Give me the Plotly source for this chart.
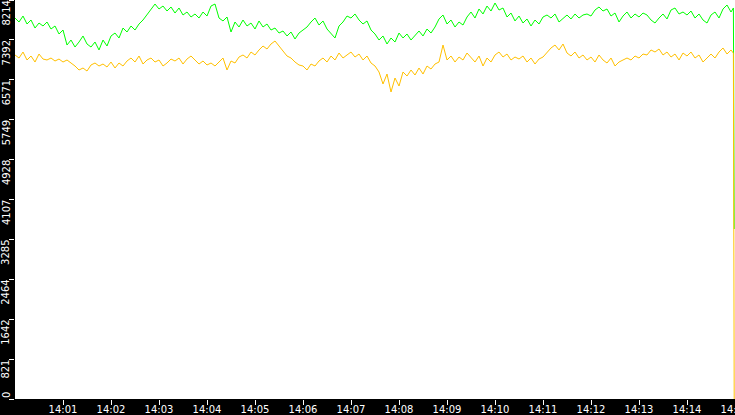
import pandas as pd
import plotly.graph_objects as go

# ---- data -------------------------------------------------------------
green_vals = [
    7843, 7761, 7884, 7720, 7802, 7637, 7740, 7679, 7761, 7617,
    7679, 7514, 7596, 7287, 7390, 7246, 7349, 7473, 7308, 7246,
    7349, 7185, 7390, 7267, 7473, 7534, 7432, 7637, 7555, 7679,
    7596, 7720, 7802, 7905, 8008, 8131, 8029, 8090, 7987, 8070,
    7946, 8049, 7905, 7967, 7864, 7926, 7843, 7967, 7884, 8090,
    8131, 7843, 7782, 7864, 7555, 7761, 7658, 7802, 7679, 7740,
    7617, 7782, 7658, 7720, 7596, 7637, 7534, 7576, 7473, 7555,
    7411, 7534, 7596, 7658, 7761, 7843, 7699, 7782, 7617, 7514,
    7432, 7679, 7761, 7884, 7843, 7926, 7802, 7720, 7782, 7596,
    7514, 7390, 7473, 7308, 7432, 7349, 7534, 7432, 7514, 7390,
    7493, 7576, 7473, 7617, 7534, 7658, 7823, 7905, 7720, 7802,
    7658, 7761, 7699, 7864, 7967, 7843, 8029, 7926, 8090, 7987,
    8152, 8008, 8049, 7864, 7946, 7782, 7884, 7740, 7823, 7679,
    7802, 7720, 7864, 7905, 7843, 7926, 7761, 7843, 7905, 7823,
    7926, 7843, 7905, 7926, 7884, 8008, 8070, 7987, 8029, 7884,
    7946, 7761, 7884, 7967, 7843, 7926, 7864, 7946, 7905, 7802,
    7740, 7843, 7926, 7823, 8008, 8049, 7926, 7967, 7905, 7987,
    7843, 7926, 7802, 7740, 7905, 7967, 7843, 8029, 8111, 7967,
    8050, 3500,
]

yellow_vals = [
    7082, 7020, 7143, 6979, 7061, 6937, 7102, 6999, 6979, 7020,
    6958, 6999, 6937, 6979, 6917, 6855, 6773, 6814, 6752, 6876,
    6917, 6855, 6896, 6835, 6937, 6814, 6917, 6855, 6958, 7020,
    6937, 7061, 6896, 6979, 7020, 6937, 6979, 6855, 6917, 6999,
    6958, 7020, 6896, 6999, 7061, 6979, 6896, 6958, 6876, 6917,
    6855, 6937, 7020, 6773, 6958, 6917, 7040, 7082, 7020, 7143,
    7082, 7185, 7267, 7205, 7308, 7370, 7267, 7143, 7061, 7020,
    6937, 6876, 6855, 6773, 6896, 6855, 6958, 7020, 6937, 7061,
    6979, 7123, 7020, 7082, 7143, 7040, 7102, 6979, 7061, 6917,
    6855, 6732, 6485, 6690, 6320, 6608, 6443, 6732, 6649, 6773,
    6670, 6814, 6690, 6855, 6793, 6896, 6937, 7287, 6979, 7061,
    6937, 7040, 6979, 7123, 7020, 6937, 7061, 6855, 7020, 6937,
    7082, 7143, 7040, 7102, 6979, 7040, 6999, 7061, 6937, 7020,
    6896, 6999, 7040, 7143, 7226, 7287, 7185, 7308, 7123, 7061,
    7143, 7020, 7082, 6979, 7040, 6937, 7082, 6979, 6917, 7020,
    6855, 6937, 6979, 7020, 6979, 7061, 7020, 7102, 7082, 7185,
    7143, 7205, 7082, 7143, 7040, 7102, 6979, 7123, 7061, 7143,
    7020, 7082, 6937, 7020, 7102, 7020, 7143, 7226, 7102, 7185,
    7120, 0,
]

times = list(pd.date_range("2024-01-01 14:00:00", periods=180, freq="5s")) + [
    pd.Timestamp("2024-01-01 14:14:58"),
    pd.Timestamp("2024-01-01 14:14:59"),
]

y_ticks = [0, 821, 1642, 2464, 3285, 4107, 4928, 5749, 6571, 7392, 8214]
x_tick_labels = ["14:01", "14:02", "14:03", "14:04", "14:05", "14:06", "14:07",
                 "14:08", "14:09", "14:10", "14:11", "14:12", "14:13", "14:14",
                 "14:15"]
x_start = "2024-01-01 14:00:00"
x_end = "2024-01-01 14:15:00"

# ---- figure -----------------------------------------------------------
fig = go.Figure()
fig.add_trace(go.Scatter(x=times, y=green_vals, mode="lines",
                         line=dict(color="#00ff00", width=1), hoverinfo="skip"))
fig.add_trace(go.Scatter(x=times, y=yellow_vals, mode="lines",
                         line=dict(color="#ffc000", width=1), hoverinfo="skip"))

font = dict(family="DejaVu Sans", size=10, color="white")
x_tickvals = [pd.Timestamp("2024-01-01 " + s + ":00") for s in x_tick_labels]

fig.update_layout(
    width=735, height=415,
    margin=dict(l=15, r=0, t=0, b=16, pad=0, autoexpand=False),
    paper_bgcolor="black", plot_bgcolor="white",
    showlegend=False,
    xaxis=dict(
        type="date", range=[x_start, x_end], automargin=False,
        tickmode="array", tickvals=x_tickvals, ticktext=x_tick_labels,
        ticks="outside", ticklen=5, tickcolor="white", tickwidth=1,
        ticklabelstandoff=-4, ticklabeloverflow="allow",
        tickfont=font, showgrid=False, zeroline=False, showline=False,
    ),
    yaxis=dict(
        range=[0, 8214], automargin=False,
        tickmode="array", tickvals=y_ticks, showticklabels=False,
        ticks="outside", ticklen=5, tickcolor="white", tickwidth=1,
        showgrid=False, zeroline=False, showline=False,
    ),
)

for v in y_ticks:
    fig.add_annotation(
        x=0, xref="paper", y=v, yref="y",
        text=str(v), textangle=-90, showarrow=False,
        xanchor="right", xshift=-2.5,
        yanchor="bottom" if v == 0 else "top",
        font=font, borderpad=0,
    )

fig.write_html(
    "out.html",
    config={"displayModeBar": False, "staticPlot": True},
    post_script="document.body.style.margin='0';document.body.style.overflow='hidden';",
)
